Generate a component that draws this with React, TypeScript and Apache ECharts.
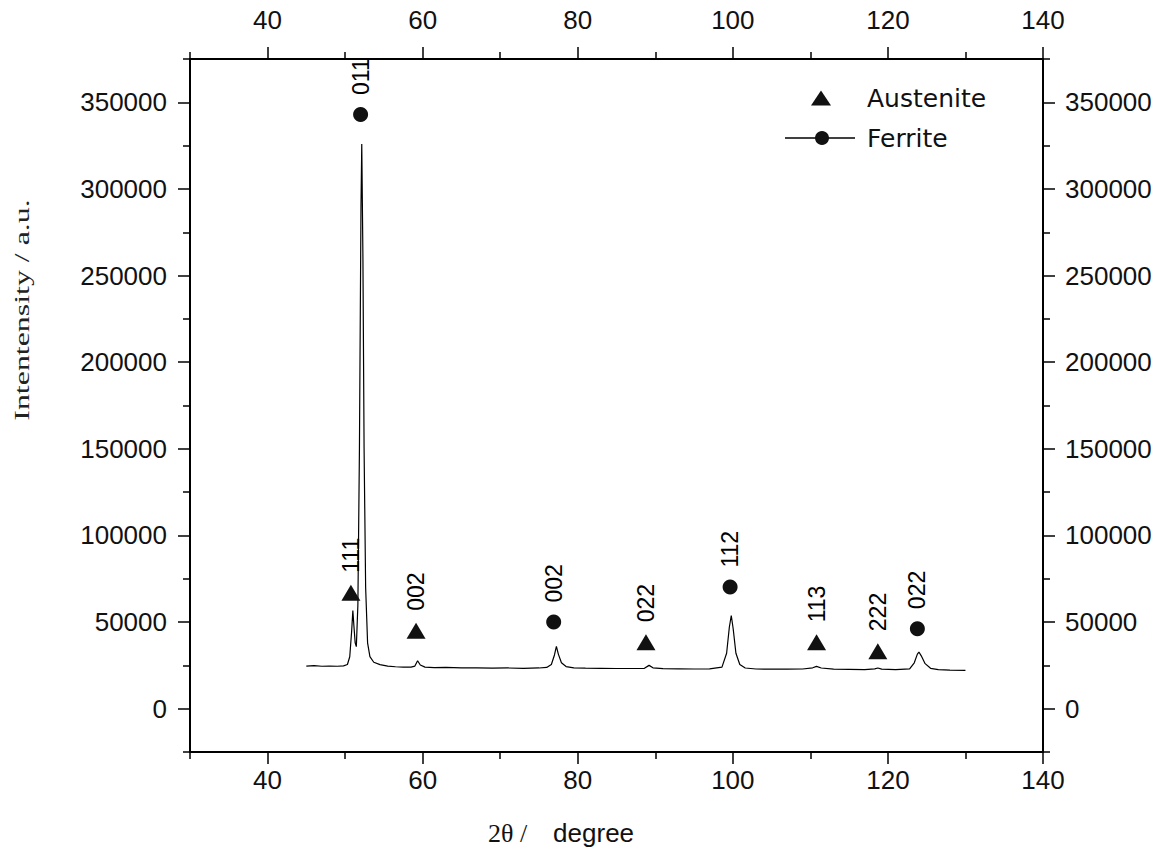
import React, { useEffect, useRef } from 'react';
import * as echarts from 'echarts';

// ---- data ----
const xMajorTicks = [40, 60, 80, 100, 120, 140];
const xMinorTicks = [30, 50, 70, 90, 110, 130];
const yMajorTicks = [0, 50000, 100000, 150000, 200000, 250000, 300000, 350000];
const yMinorTicks = [-25000, 25000, 75000, 125000, 175000, 225000, 275000, 325000, 375000];

const spectrum: [number, number][] = [
  [45.0, 24600], [46.0, 24800], [47.0, 24500], [48.0, 24600], [49.0, 24500],
  [49.8, 24700], [50.3, 25500], [50.6, 30000], [50.85, 45000], [51.0, 56600],
  [51.15, 47000], [51.3, 38000], [51.45, 35800], [51.65, 60000], [51.85, 150000],
  [52.05, 290000], [52.15, 326000], [52.3, 260000], [52.45, 150000], [52.65, 70000],
  [52.9, 38000], [53.2, 30000], [53.7, 26800], [54.5, 25400], [55.5, 24600],
  [56.5, 24200], [57.5, 24000], [58.5, 24000], [59.0, 24600], [59.35, 27700],
  [59.7, 25200], [60.3, 24000], [61.5, 23700], [63.0, 23800], [65.0, 23500],
  [67.0, 23600], [69.0, 23400], [71.0, 23500], [73.0, 23300], [75.0, 23500],
  [76.0, 23800], [76.6, 25500], [77.0, 31000], [77.25, 36000], [77.5, 31500],
  [77.9, 26500], [78.5, 24300], [79.5, 23600], [81.0, 23400], [83.0, 23300],
  [85.0, 23200], [87.0, 23200], [88.6, 23300], [89.2, 25000], [89.7, 23600],
  [91.0, 23100], [93.0, 23000], [95.0, 22900], [97.0, 23000], [98.6, 24000],
  [99.2, 32000], [99.55, 47000], [99.8, 53800], [100.05, 46000], [100.4, 32000],
  [100.9, 25500], [101.6, 23500], [103.0, 22900], [105.0, 22800], [107.0, 22800],
  [109.0, 22900], [110.3, 23600], [110.8, 24400], [111.4, 23500], [113.0, 22800],
  [115.0, 22700], [117.0, 22600], [118.3, 23000], [118.7, 23500], [119.2, 22800],
  [121.0, 22500], [122.8, 23000], [123.4, 26500], [123.8, 31500], [124.0, 32700],
  [124.3, 30500], [124.8, 26000], [125.5, 23300], [126.5, 22600], [128.0, 22300],
  [130.0, 22100],
];

const austeniteHkl = ['111', '002', '022', '113', '222'];
const austeniteTheta = [50.75, 59.15, 88.8, 110.8, 118.7];
const austeniteIntensity = [66900, 45000, 38300, 38300, 33200];

const ferriteHkl = ['011', '002', '112', '022'];
const ferriteTheta = [52.0, 76.9, 99.65, 123.8];
const ferriteIntensity = [343000, 50000, 70200, 46200];

const legendNames = ['Austenite', 'Ferrite'];
const xAxisTitle = ['2θ /', 'degree'];
const yAxisTitle = 'Intentensity / a.u.';

const SANS = '"Liberation Sans", Arial, sans-serif';
const SERIF = '"Liberation Serif", "Times New Roman", serif';
const INK = '#111';

export default function App() {
  const ref = useRef<HTMLDivElement>(null);

  useEffect(() => {
    if (!ref.current) return;
    const chart = echarts.init(ref.current, undefined, { renderer: 'svg' });

    const xBase = (position: 'top' | 'bottom', major: boolean) => ({
      type: 'value',
      position,
      min: 30,
      max: 140,
      gridIndex: 0,
      axisLine: { show: major, onZero: false, lineStyle: { color: '#000', width: 2 } },
      axisTick: {
        show: true,
        inside: false,
        length: major ? 12 : 7,
        customValues: major ? xMajorTicks : xMinorTicks,
        lineStyle: { color: '#000', width: 1.5 },
      },
      axisLabel: {
        show: major,
        customValues: xMajorTicks,
        margin: position === 'top' ? 26 : 15,
        fontSize: 26,
        fontFamily: SANS,
        color: INK,
        formatter: (v: number) => String(v),
      },
      splitLine: { show: false },
    });

    const yBase = (position: 'left' | 'right', major: boolean) => ({
      type: 'value',
      position,
      min: -25000,
      max: 375000,
      gridIndex: 0,
      axisLine: { show: major, onZero: false, lineStyle: { color: '#000', width: 2 } },
      axisTick: {
        show: true,
        inside: false,
        length: major ? 12 : 7,
        customValues: major ? yMajorTicks : yMinorTicks,
        lineStyle: { color: '#000', width: 1.5 },
      },
      axisLabel: {
        show: major,
        customValues: yMajorTicks,
        margin: position === 'left' ? 23 : 22,
        fontSize: 26,
        fontFamily: SANS,
        color: INK,
        formatter: (v: number) => String(v),
      },
      splitLine: { show: false },
    });

    const peakLabel = {
      show: true,
      formatter: '{b}',
      position: 'top',
      rotate: 90,
      align: 'left',
      verticalAlign: 'middle',
      distance: 12,
      fontSize: 23,
      fontFamily: SANS,
      color: '#000',
      opacity: 1,
    };

    const austeniteData = austeniteTheta.map((t, i) => ({
      name: austeniteHkl[i],
      value: [t, austeniteIntensity[i]],
    }));
    const ferriteData = ferriteTheta.map((t, i) => ({
      name: ferriteHkl[i],
      value: [t, ferriteIntensity[i]],
    }));

    chart.setOption({
      animation: false,
      backgroundColor: '#fff',
      grid: { left: 190, top: 59, right: 114, bottom: 103, containLabel: false },
      xAxis: [
        xBase('bottom', true),
        xBase('top', true),
        xBase('bottom', false),
        xBase('top', false),
      ],
      yAxis: [
        yBase('left', true),
        yBase('right', true),
        yBase('left', false),
        yBase('right', false),
      ],
      series: [
        {
          name: 'pattern',
          type: 'line',
          data: spectrum,
          xAxisIndex: 0,
          yAxisIndex: 0,
          showSymbol: false,
          symbol: 'none',
          lineStyle: { color: '#000', width: 1.2 },
          z: 2,
        },
        {
          name: legendNames[0],
          type: 'scatter',
          data: austeniteData,
          xAxisIndex: 0,
          yAxisIndex: 0,
          symbol: 'triangle',
          symbolSize: [19, 16],
          itemStyle: { color: '#111', opacity: 1 },
          label: peakLabel,
          z: 3,
        },
        {
          name: legendNames[1],
          type: 'scatter',
          data: ferriteData,
          xAxisIndex: 0,
          yAxisIndex: 0,
          symbol: 'circle',
          symbolSize: 15,
          itemStyle: { color: '#111', opacity: 1 },
          label: peakLabel,
          z: 3,
        },
      ],
      graphic: [
        // legend
        {
          type: 'polygon',
          shape: { points: [[811, 105.5], [831, 105.5], [821, 90.5]] },
          style: { fill: '#111' },
        },
        {
          type: 'text',
          x: 867,
          y: 98,
          style: {
            text: legendNames[0],
            font: '25px "DejaVu Sans", sans-serif',
            fill: INK,
            align: 'left',
            verticalAlign: 'middle',
          },
        },
        {
          type: 'line',
          shape: { x1: 785, y1: 138, x2: 855, y2: 138 },
          style: { stroke: '#000', lineWidth: 1.5 },
        },
        {
          type: 'circle',
          shape: { cx: 822, cy: 138, r: 7 },
          style: { fill: '#111' },
        },
        {
          type: 'text',
          x: 867,
          y: 138,
          style: {
            text: legendNames[1],
            font: '25px "DejaVu Sans", sans-serif',
            fill: INK,
            align: 'left',
            verticalAlign: 'middle',
          },
        },
        // axis titles
        {
          type: 'text',
          x: 22,
          y: 310,
          rotation: Math.PI / 2,
          scaleX: 1.45,
          style: {
            text: yAxisTitle,
            font: '22px ' + SERIF,
            fill: '#222',
            align: 'center',
            verticalAlign: 'middle',
          },
        },
        {
          type: 'text',
          x: 561,
          y: 833,
          style: {
            text: '{a|' + xAxisTitle[0] + '}{b|' + xAxisTitle[1] + '}',
            align: 'center',
            verticalAlign: 'middle',
            fill: INK,
            rich: {
              a: { fontFamily: SERIF, fontSize: 26, fill: INK, color: INK },
              b: { fontFamily: SANS, fontSize: 26, fill: INK, color: INK, padding: [0, 0, 0, 26] },
            },
          },
        },
      ],
    });

    return () => chart.dispose();
  }, []);

  return (
    <div
      ref={ref}
      style={{ position: 'fixed', left: 0, top: 0, width: 1157, height: 855, background: '#fff' }}
    />
  );
}
